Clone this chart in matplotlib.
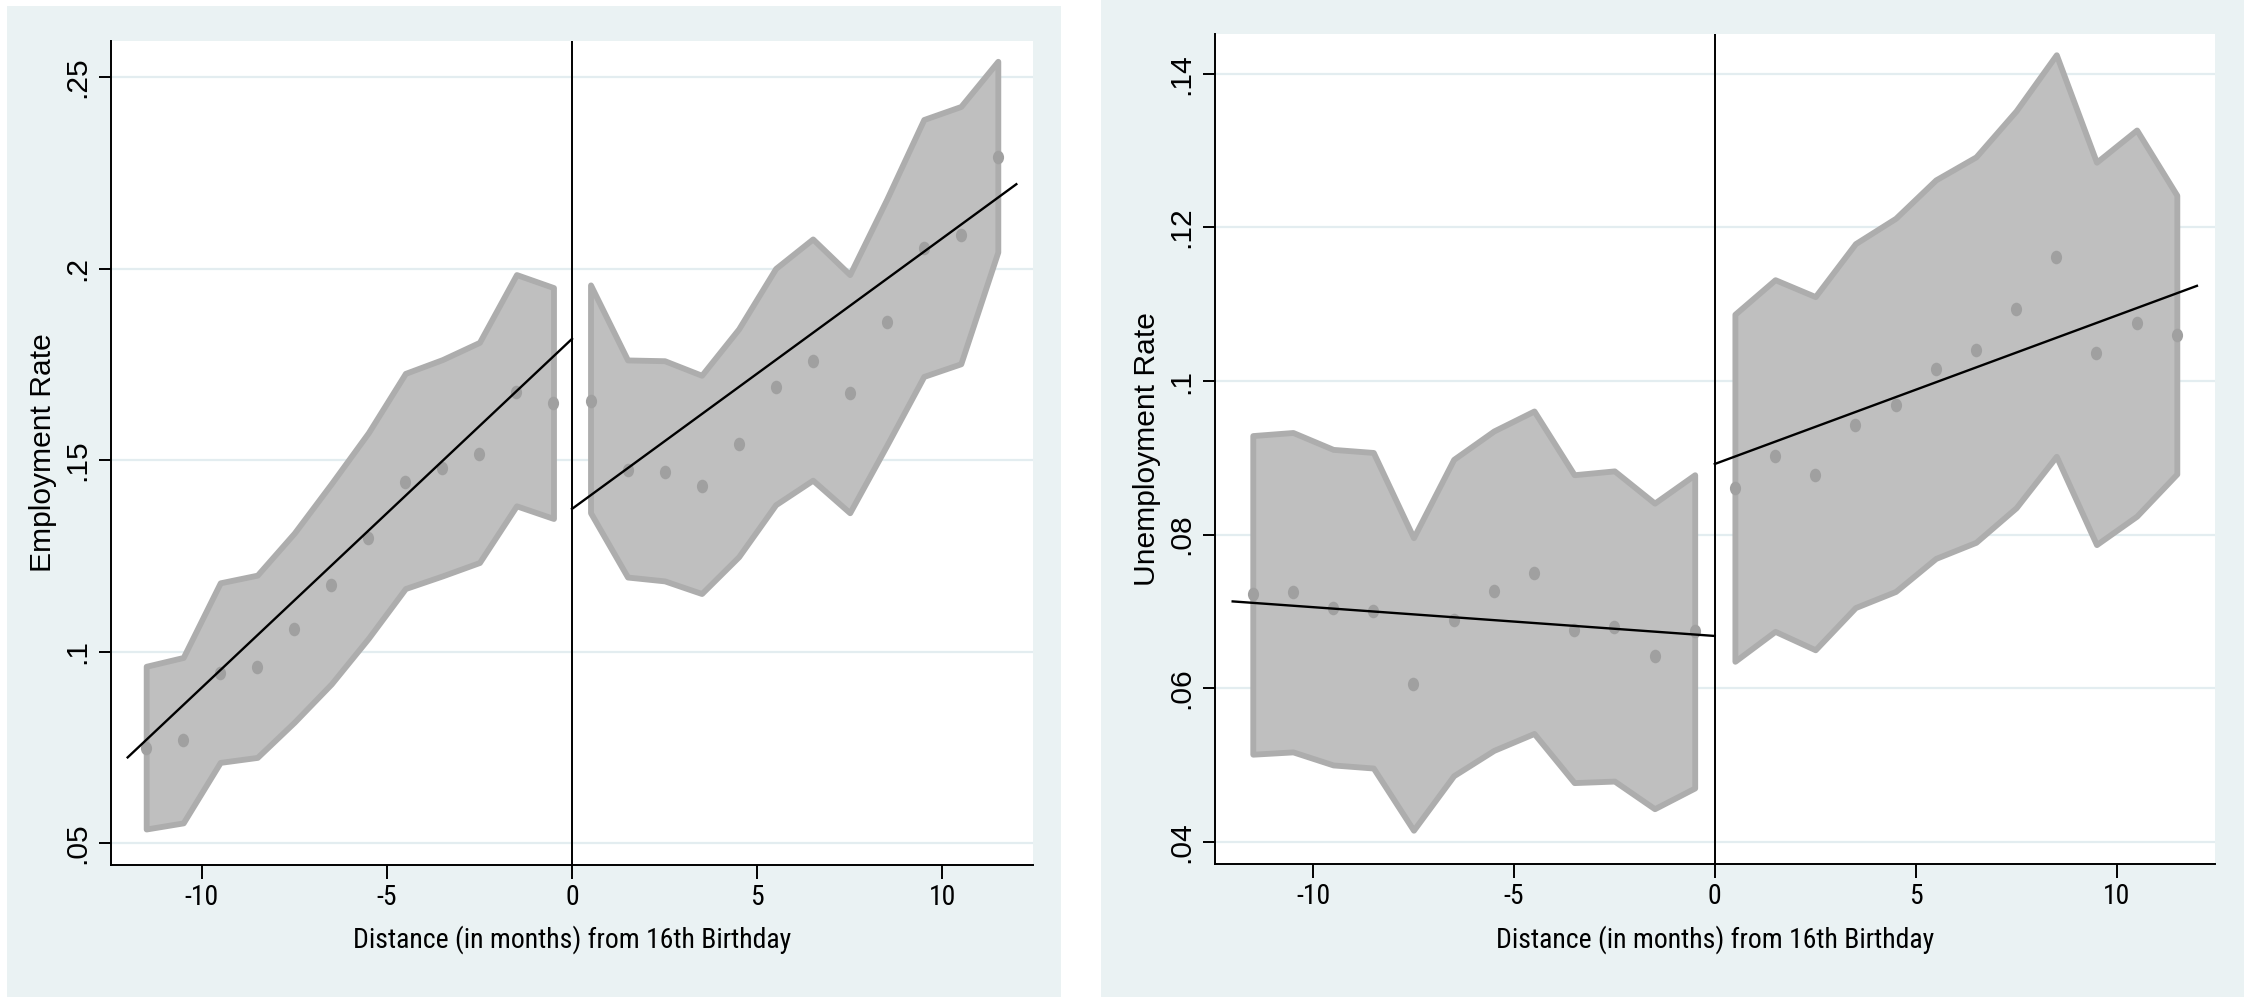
import matplotlib
matplotlib.use("Agg")
import matplotlib.pyplot as plt
from matplotlib import font_manager
from matplotlib.patches import Rectangle
from matplotlib.path import Path
from matplotlib.transforms import Affine2D

# bin centres, months from 16th birthday
months = [-11.5, -10.5, -9.5, -8.5, -7.5, -6.5, -5.5, -4.5, -3.5, -2.5, -1.5, -0.5,
          0.5, 1.5, 2.5, 3.5, 4.5, 5.5, 6.5, 7.5, 8.5, 9.5, 10.5, 11.5]

emp_rate = [0.0748, 0.0769, 0.0944, 0.0960, 0.1060, 0.1173, 0.1296, 0.1444, 0.1481, 0.1516, 0.1679, 0.1649,
            0.1655, 0.1474, 0.1469, 0.1434, 0.1542, 0.1692, 0.1760, 0.1675, 0.1862, 0.2054, 0.2088, 0.2291]
emp_hi = [0.0962, 0.0985, 0.1180, 0.1200, 0.1310, 0.1439, 0.1572, 0.1727, 0.1763, 0.1808, 0.1985, 0.1951,
          0.1958, 0.1762, 0.1760, 0.1722, 0.1843, 0.2001, 0.2078, 0.1985, 0.2182, 0.2390, 0.2424, 0.2542]
emp_lo = [0.0537, 0.0553, 0.0711, 0.0724, 0.0816, 0.0916, 0.1035, 0.1165, 0.1198, 0.1233, 0.1381, 0.1348,
          0.1363, 0.1195, 0.1185, 0.1152, 0.1248, 0.1384, 0.1448, 0.1363, 0.1539, 0.1719, 0.1752, 0.2044]
emp_fit_left_x = [-12, 0]
emp_fit_left = [0.0724, 0.1817]
emp_fit_right_x = [0, 12]
emp_fit_right = [0.1373, 0.2221]

unemp_rate = [0.0723, 0.0725, 0.0705, 0.0701, 0.0606, 0.0689, 0.0726, 0.0750, 0.0676, 0.0680, 0.0642, 0.0674,
              0.0861, 0.0903, 0.0878, 0.0943, 0.0969, 0.1016, 0.1040, 0.1094, 0.1161, 0.1036, 0.1075, 0.1060]
unemp_hi = [0.0929, 0.0933, 0.0911, 0.0907, 0.0796, 0.0898, 0.0935, 0.0961, 0.0878, 0.0883, 0.0841, 0.0878,
            0.1087, 0.1132, 0.1110, 0.1179, 0.1212, 0.1262, 0.1292, 0.1352, 0.1425, 0.1285, 0.1327, 0.1242]
unemp_lo = [0.0514, 0.0517, 0.0500, 0.0496, 0.0415, 0.0486, 0.0519, 0.0541, 0.0477, 0.0479, 0.0443, 0.0470,
            0.0635, 0.0674, 0.0650, 0.0705, 0.0726, 0.0769, 0.0790, 0.0835, 0.0902, 0.0787, 0.0824, 0.0879]
unemp_fit_left_x = [-12, 0]
unemp_fit_left = [0.0713, 0.0668]
unemp_fit_right_x = [0, 12]
unemp_fit_right = [0.0892, 0.1124]

xticks = [-10, -5, 0, 5, 10]
emp_yticks = [0.05, 0.10, 0.15, 0.20, 0.25]
emp_yticklabels = [".05", ".1", ".15", ".2", ".25"]
unemp_yticks = [0.04, 0.06, 0.08, 0.10, 0.12, 0.14]
unemp_yticklabels = [".04", ".06", ".08", ".1", ".12", ".14"]
xlabel = "Distance (in months) from 16th Birthday"

W, H = 2252, 998
BG = "#EAF2F3"
GRID = "#E3EDF0"
BAND = "#BFBFBF"
BAND_EDGE = "#ADADAD"
DOT = "#A0A0A0"


def pick_font(names):
    installed = {f.name for f in font_manager.fontManager.ttflist}
    for name in names:
        if name in installed:
            return name
    return "DejaVu Sans"


NARROW = pick_font(["Liberation Sans Narrow", "Roboto Condensed", "Liberation Sans"])
REGULAR = pick_font(["Liberation Sans", "Arial", "DejaVu Sans"])
FS = 21.6
FS_X = 20.0

# dots come out slightly taller than wide in the original
dot_marker = Path.unit_circle().transformed(Affine2D().scale(0.82, 1.0))


def px_rect(x0, y0, x1, y1):
    # pixel box (top-left origin) -> figure fraction [l, b, w, h]
    return [x0 / W, (H - y1) / H, (x1 - x0) / W, (y1 - y0) / H]


def add_bg(fig, x0, y0, x1, y1):
    l, b, w, h = px_rect(x0, y0, x1, y1)
    fig.patches.append(Rectangle((l, b), w, h, transform=fig.transFigure,
                                 facecolor=BG, edgecolor="none", zorder=-5))


def draw_panel(ax, rate, lo, hi, fit_l_x, fit_l, fit_r_x, fit_r,
               xlim, ylim, yticks, yticklabels, ylabel, ylabel_x):
    n = len(months) // 2
    for sl in (slice(0, n), slice(n, None)):
        ax.fill_between(months[sl], lo[sl], hi[sl], facecolor=BAND, edgecolor=BAND_EDGE,
                        linewidth=4.2, joinstyle="round", zorder=2)
    ax.plot(months, rate, linestyle="none", marker=dot_marker, markersize=9.8,
            markerfacecolor=DOT, markeredgecolor="none", zorder=3)
    ax.plot(fit_l_x, fit_l, color="black", linewidth=1.7, zorder=4)
    ax.plot(fit_r_x, fit_r, color="black", linewidth=1.7, zorder=4)
    ax.axvline(0, color="black", linewidth=1.4, zorder=4)

    ax.set_xlim(*xlim)
    ax.set_ylim(*ylim)
    ax.set_xticks(xticks)
    ax.set_xticklabels([str(t) for t in xticks], fontfamily=NARROW, fontsize=FS_X)
    ax.set_yticks(yticks)
    ax.set_yticklabels(yticklabels, fontfamily=REGULAR, fontsize=FS, rotation=90, va="center")

    ax.set_axisbelow(True)
    ax.yaxis.grid(True, color=GRID, linewidth=1.6)
    for side in ("top", "right"):
        ax.spines[side].set_visible(False)
    for side in ("left", "bottom"):
        ax.spines[side].set_linewidth(1.4)
        ax.spines[side].set_color("black")
    ax.tick_params(axis="x", direction="out", length=10, width=1.4, pad=4)
    ax.tick_params(axis="y", direction="out", length=8.5, width=1.4, pad=6)

    ax.set_xlabel(xlabel, fontfamily=NARROW, fontsize=FS_X)
    ax.xaxis.set_label_coords(0.5, -0.091)
    ax.xaxis.label.set_verticalalignment("center")
    ax.set_ylabel(ylabel, fontfamily=REGULAR, fontsize=FS)
    ax.yaxis.set_label_coords(ylabel_x, 0.5)
    ax.yaxis.label.set_verticalalignment("center")


fig = plt.figure(figsize=(W / 100, H / 100), dpi=100, facecolor="white")
add_bg(fig, 7, 6, 1061, 997)
add_bg(fig, 1101, 0, 2244, 997)

ax1 = fig.add_axes(px_rect(111, 41, 1033, 865))
ax1.set_facecolor("white")
draw_panel(ax1, emp_rate, emp_lo, emp_hi, emp_fit_left_x, emp_fit_left, emp_fit_right_x, emp_fit_right,
           (-12.45, 12.45), (0.0443, 0.2595), emp_yticks, emp_yticklabels, "Employment Rate", -0.074)

ax2 = fig.add_axes(px_rect(1215, 34, 2215, 864))
ax2.set_facecolor("white")
draw_panel(ax2, unemp_rate, unemp_lo, unemp_hi, unemp_fit_left_x, unemp_fit_left, unemp_fit_right_x,
           unemp_fit_right, (-12.44, 12.45), (0.0371, 0.1452), unemp_yticks, unemp_yticklabels,
           "Unemployment Rate", -0.068)

fig.savefig("out.png", dpi=100, facecolor="white")
